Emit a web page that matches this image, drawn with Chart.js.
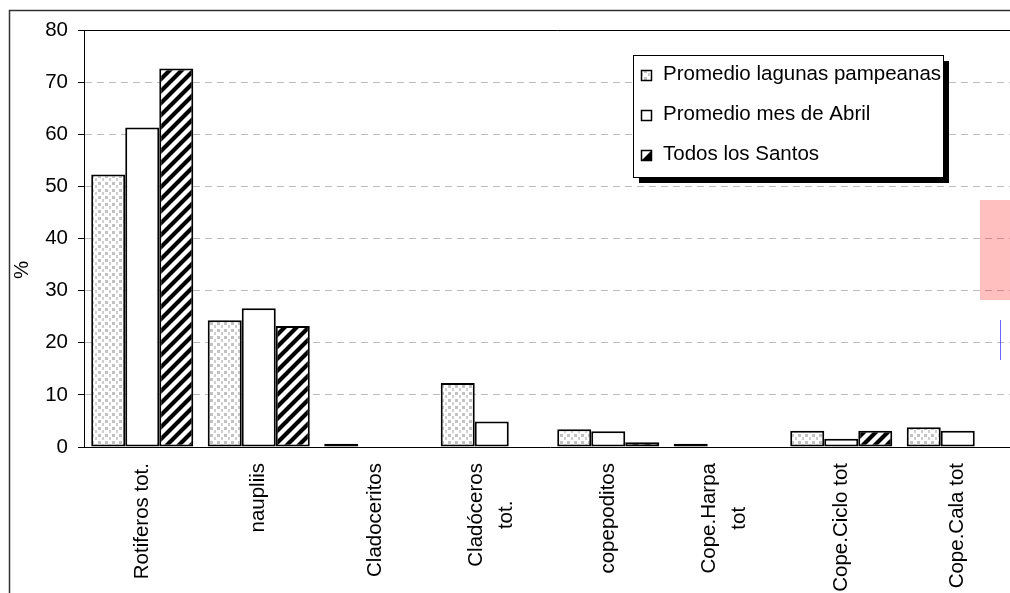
<!DOCTYPE html>
<html>
<head>
<meta charset="utf-8">
<script src="https://cdn.jsdelivr.net/npm/chart.js@4.4.0/dist/chart.umd.min.js"></script>
<style>
  html, body { margin: 0; padding: 0; background: #fff; overflow: hidden; }
  #wrap { position: relative; width: 1010px; height: 593px; overflow: hidden; }
  canvas { display: block; }
</style>
</head>
<body>
<div id="wrap"><canvas id="c" width="1030" height="593"></canvas></div>
<script>
// Zooplankton composition (%) by group
const categories = [
  ['Rotiferos tot.'],
  ['naupliis'],
  ['Cladoceritos'],
  ['Cladóceros', 'tot.'],
  ['copepoditos'],
  ['Cope.Harpa', 'tot'],
  ['Cope.Ciclo tot'],
  ['Cope.Cala tot']
];
const seriesNames = ['Promedio lagunas pampeanas', 'Promedio mes de Abril', 'Todos los Santos'];
const lagunasPampeanas = [52.3, 24.3, 0.6, 12.3, 3.4, 0.6, 3.1, 3.8];
const mesDeAbril       = [61.3, 26.6, 0,    4.9, 3.0, 0,   1.6, 3.1];
const todosLosSantos   = [72.6, 23.2, 0,    0,   0.9, 0,   3.1, 0];
const yMin = 0, yMax = 80, yStep = 10;
const yTitle = '%';

const FONT = '"Liberation Sans", Arial, Helvetica, sans-serif';
const FONT_SIZE = 20.5;

// Fill patterns: grey stipple and black diagonal hatch
function makeDots() {
  const t = document.createElement('canvas');
  t.width = 7; t.height = 7;
  const g = t.getContext('2d');
  g.fillStyle = '#fff'; g.fillRect(0, 0, 7, 7);
  g.fillStyle = '#c2c2c2';
  g.fillRect(0, 0, 3, 3);
  g.fillStyle = '#cfcfcf';
  g.fillRect(4, 3, 2, 3);
  return g.createPattern(t, 'repeat');
}
function makeHatch() {
  const s = 12;
  const t = document.createElement('canvas');
  t.width = s; t.height = s;
  const g = t.getContext('2d');
  g.fillStyle = '#fff'; g.fillRect(0, 0, s, s);
  g.strokeStyle = '#000';
  g.lineWidth = 4.2;
  g.beginPath();
  g.moveTo(-2, s + 2); g.lineTo(s + 2, -2);
  g.moveTo(-2, 2); g.lineTo(2, -2);
  g.moveTo(s - 2, s + 2); g.lineTo(s + 2, s - 2);
  g.stroke();
  return g.createPattern(t, 'repeat');
}
const ctx0 = document.getElementById('c').getContext('2d');
const dotFill = makeDots();
const hatchFill = makeHatch();

// Outer frame, top border of the plot, y title
const framePlugin = {
  id: 'frame',
  beforeDraw(chart) {
    const ctx = chart.ctx;
    ctx.save();
    ctx.fillStyle = '#fff';
    ctx.fillRect(0, 0, chart.width, chart.height);
    ctx.restore();
  },
  afterDraw(chart) {
    const ctx = chart.ctx, a = chart.chartArea;
    ctx.save();
    ctx.strokeStyle = '#333';
    ctx.lineWidth = 1.5;
    ctx.beginPath();
    ctx.moveTo(9.5, chart.height + 5);
    ctx.lineTo(9.5, 10.5);
    ctx.lineTo(chart.width + 5, 10.5);
    ctx.stroke();
    ctx.strokeStyle = '#000';
    ctx.lineWidth = 1;
    ctx.beginPath();
    ctx.moveTo(a.left, Math.round(a.top) + 0.5);
    ctx.lineTo(chart.width + 5, Math.round(a.top) + 0.5);
    ctx.stroke();
    ctx.translate(22, 270);
    ctx.rotate(-Math.PI / 2);
    ctx.font = FONT_SIZE + 'px ' + FONT;
    ctx.fillStyle = '#000';
    ctx.textAlign = 'center';
    ctx.textBaseline = 'middle';
    ctx.fillText(yTitle, 0, 0);
    ctx.restore();
    // marker band for checking the right edge
    ctx.save();
    ctx.fillStyle = 'rgba(255,0,0,0.25)';
    ctx.fillRect(980, 200, 30, 100);
    ctx.fillStyle = 'rgba(0,0,255,0.6)';
    ctx.fillRect(1000, 320, 1, 40);
    ctx.restore();
  }
};

// Vertical category labels, lines centred within each label block
const xLabelPlugin = {
  id: 'xLabels',
  afterDraw(chart) {
    const ctx = chart.ctx, xs = chart.scales.x;
    ctx.save();
    ctx.font = FONT_SIZE + 'px ' + FONT;
    ctx.fillStyle = '#000';
    ctx.textBaseline = 'middle';
    ctx.textAlign = 'center';
    const top = xs.top + 16;
    categories.forEach((lines, i) => {
      const x = xs.getPixelForTick(i);
      const w = Math.max(...lines.map(l => ctx.measureText(l).width));
      ctx.save();
      ctx.translate(x, top);
      ctx.rotate(-Math.PI / 2);
      lines.forEach((l, j) => ctx.fillText(l, -w / 2, (j - (lines.length - 1) / 2) * 30));
      ctx.restore();
    });
    ctx.restore();
  }
};

// Boxed legend with drop shadow inside the plot
const legendPlugin = {
  id: 'boxLegend',
  afterDraw(chart) {
    const ctx = chart.ctx;
    const L = 633, T = 55, W = 310, H = 122;
    ctx.save();
    ctx.fillStyle = '#000';
    ctx.fillRect(L + 6, T + 6, W, H);
    ctx.fillStyle = '#fff';
    ctx.fillRect(L, T, W, H);
    ctx.strokeStyle = '#000';
    ctx.lineWidth = 1;
    ctx.strokeRect(L + 0.5, T + 0.5, W, H);
    ctx.font = FONT_SIZE + 'px ' + FONT;
    ctx.textBaseline = 'middle';
    ctx.textAlign = 'left';
    chart.data.datasets.forEach((ds, i) => {
      const cy = T + 19.5 + i * 40;
      const mx = 641, my = Math.round(cy - 5), m = 11;
      ctx.fillStyle = i === 0 ? dotFill : '#fff';
      ctx.fillRect(mx, my, m, m);
      if (i === 2) {
        ctx.fillStyle = '#000';
        ctx.beginPath();
        ctx.moveTo(mx + m, my);
        ctx.lineTo(mx + m, my + m);
        ctx.lineTo(mx, my + m);
        ctx.closePath();
        ctx.fill();
      }
      ctx.strokeStyle = '#000';
      ctx.lineWidth = 1.5;
      ctx.strokeRect(mx + 0.5, my + 0.5, m - 1, m - 1);
      ctx.fillStyle = '#000';
      ctx.fillText(ds.label, 663, cy);
    });
    ctx.restore();
  }
};

const barStyle = { borderColor: '#000', borderWidth: 2, borderSkipped: false };

new Chart(ctx0, {
  type: 'bar',
  data: {
    labels: categories,
    datasets: [
      Object.assign({ label: seriesNames[0], data: lagunasPampeanas, backgroundColor: dotFill }, barStyle),
      Object.assign({ label: seriesNames[1], data: mesDeAbril, backgroundColor: '#fff' }, barStyle),
      Object.assign({ label: seriesNames[2], data: todosLosSantos, backgroundColor: hatchFill }, barStyle)
    ]
  },
  options: {
    responsive: false,
    animation: false,
    devicePixelRatio: 1,
    layout: { padding: { top: 30, right: 14, left: 0, bottom: 0 } },
    datasets: { bar: { categoryPercentage: 0.876, barPercentage: 1.0 } },
    plugins: { legend: { display: false }, tooltip: { enabled: false } },
    scales: {
      x: {
        grid: { display: false },
        border: { display: true, color: '#000', width: 1 },
        ticks: { display: false },
        afterFit(scale) { scale.height = 146; }
      },
      y: {
        min: yMin,
        max: yMax,
        ticks: {
          stepSize: yStep,
          color: '#000',
          padding: 10,
          font: { size: FONT_SIZE, family: FONT }
        },
        grid: { color: '#bdbdbd', lineWidth: 1, tickColor: '#000', tickLength: 6 },
        border: { display: true, color: '#000', width: 1, dash: [7, 5] },
        afterFit(scale) { scale.width = 84; }
      }
    }
  },
  plugins: [xLabelPlugin, legendPlugin, framePlugin]
});
</script>
</body>
</html>
